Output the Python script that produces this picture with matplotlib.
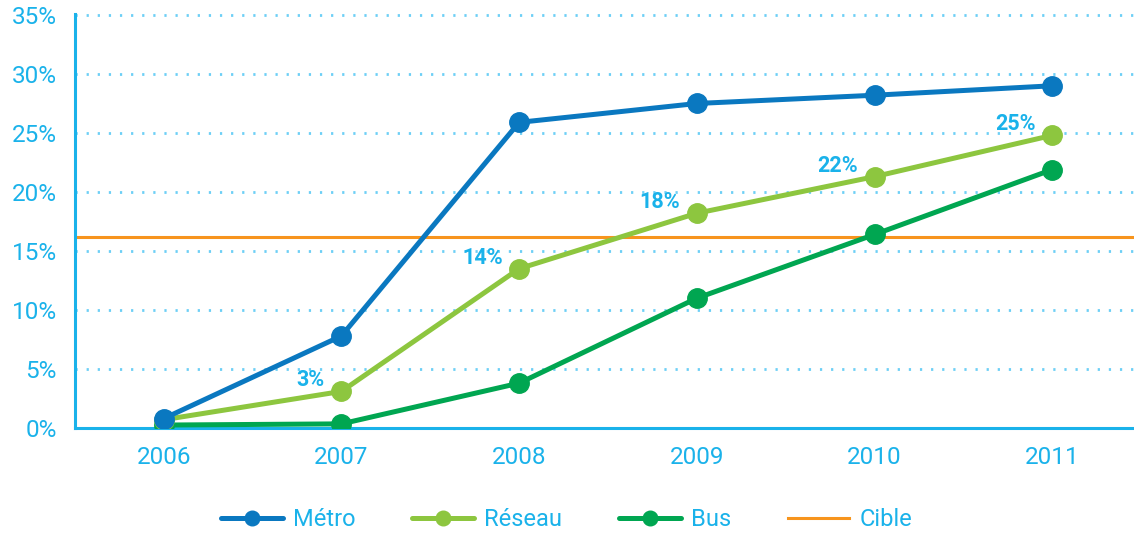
import matplotlib
matplotlib.use("Agg")
import matplotlib.pyplot as plt

years = [2006, 2007, 2008, 2009, 2010, 2011]
metro = [0.8, 7.8, 25.9, 27.5, 28.2, 29.0]
reseau = [0.7, 3.1, 13.5, 18.2, 21.3, 24.8]
bus = [0.25, 0.35, 3.8, 11.0, 16.4, 21.9]
cible = 16.2
label_years = [2007, 2008, 2009, 2010, 2011]
label_texts = ["3%", "14%", "18%", "22%", "25%"]
yticks = [0, 5, 10, 15, 20, 25, 30, 35]

plt.rcParams['font.family'] = ['Roboto', 'DejaVu Sans']
TXT = '#1ab2ea'
GRID = '#6dcff6'
C_METRO = '#0a78c0'
C_RES = '#8dc63f'
C_BUS = '#00a651'
C_CIB = '#f7941d'

fig = plt.figure(figsize=(11.34, 5.33), dpi=100)
ax = fig.add_axes([0.066, 0.197, 0.934, 0.776])

ax.set_xlim(2005.5, 2011.46)
ax.set_ylim(0, 35.05)

for v in yticks[1:]:
    ax.axhline(v, color=GRID, lw=2.0, linestyle=(0, (0.8, 3.2)), zorder=1)

ax.axhline(cible, color=C_CIB, lw=2.2, zorder=2, label='Cible')
ax.plot(years, bus, color=C_BUS, lw=3.6, marker='o', ms=14, zorder=3, label='Bus', solid_capstyle='round')
ax.plot(years, reseau, color=C_RES, lw=3.6, marker='o', ms=14, zorder=4, label='Réseau', solid_capstyle='round')
ax.plot(years, metro, color=C_METRO, lw=3.6, marker='o', ms=14, zorder=5, label='Métro', solid_capstyle='round')

for yr, t in zip(label_years, label_texts):
    v = reseau[years.index(yr)]
    ax.annotate(t, (yr, v), xytext=(-12, 8), textcoords='offset points',
                ha='right', va='center', color=TXT, fontsize=15.5, fontweight='bold', zorder=6)

for s in ['top', 'right']:
    ax.spines[s].set_visible(False)
for s in ['left', 'bottom']:
    ax.spines[s].set_color(TXT)
    ax.spines[s].set_linewidth(2.2)

ax.set_xticks(years)
ax.set_xticklabels([str(y) for y in years])
ax.set_yticks(yticks)
ax.set_yticklabels([f"{v}%" for v in yticks])
ax.tick_params(axis='both', length=0, colors=TXT, labelsize=17.5)
ax.tick_params(axis='x', pad=13)
ax.tick_params(axis='y', pad=13)

handles, labels = ax.get_legend_handles_labels()
order = ['Métro', 'Réseau', 'Bus', 'Cible']
hmap = dict(zip(labels, handles))
leg = fig.legend([hmap[k] for k in order], order, loc='center', ncol=4,
                 bbox_to_anchor=(0.50, 0.025), frameon=False, fontsize=17,
                 handlelength=2.6, columnspacing=2.4, handletextpad=0.45,
                 markerscale=0.75)
for t in leg.get_texts():
    t.set_color(TXT)

fig.savefig('out.png', dpi=100)
